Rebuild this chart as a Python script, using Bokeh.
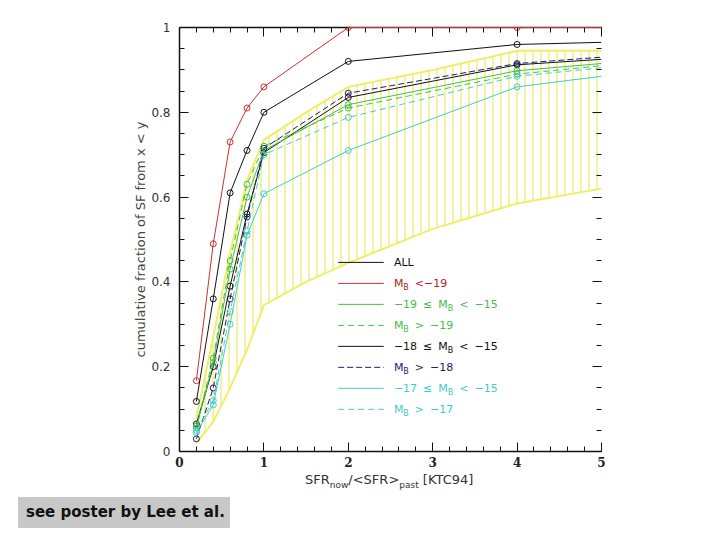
import numpy as np
from bokeh.plotting import figure
from bokeh.layouts import column
from bokeh.models import Range1d, LinearAxis, FixedTicker, ColumnDataSource, Div
from bokeh.core.properties import value
from bokeh.embed import file_html
from bokeh.resources import INLINE

# SFR_now / <SFR>_past bins and the cumulative fraction of SF for each subsample
sfr_ratio = [0.2, 0.4, 0.6, 0.8, 1.0, 2.0, 4.0, 5.0]
frac_all = [0.065, 0.20, 0.39, 0.56, 0.705, 0.835, 0.912, 0.925]
frac_bright = [0.167, 0.49, 0.73, 0.81, 0.86, 1.0, 1.0, 1.0]
frac_m19_m15 = [0.055, 0.21, 0.43, 0.60, 0.71, 0.818, 0.898, 0.915]
frac_gt_m19 = [0.06, 0.22, 0.45, 0.63, 0.72, 0.81, 0.89, 0.91]
frac_m18_m15 = [0.118, 0.36, 0.61, 0.71, 0.80, 0.92, 0.96, 0.965]
frac_gt_m18 = [0.03, 0.15, 0.36, 0.553, 0.715, 0.845, 0.915, 0.93]
frac_m17_m15 = [0.045, 0.11, 0.30, 0.51, 0.608, 0.71, 0.86, 0.885]
frac_gt_m17 = [0.05, 0.12, 0.33, 0.52, 0.70, 0.788, 0.885, 0.905]

# hatched model envelope
band_x = [0.2, 0.4, 0.6, 0.8, 1.0, 1.5, 2.0, 3.0, 4.0, 5.0]
band_lo = [0.02, 0.07, 0.15, 0.24, 0.345, 0.40, 0.445, 0.525, 0.585, 0.62]
band_hi = [0.08, 0.27, 0.47, 0.64, 0.735, 0.80, 0.86, 0.90, 0.945, 0.945]

x_ticks = [0, 1, 2, 3, 4, 5]
y_ticks = [0, 0.2, 0.4, 0.6, 0.8, 1.0]
y_tick_labels = ["0", "0.2", "0.4", "0.6", "0.8", "1"]

# legend entries: (label tokens, series, colour, dash); tokens flagged True are subscripts
RED, BLACK, GREEN, NAVY, CYAN = "#cc3030", "#111111", "#44c044", "#1c1c78", "#44cccc"
series = [
    ([("ALL", False)], frac_all, BLACK, "solid"),
    ([("M", False), ("B", True), ("<\u221219", False)], frac_bright, RED, "solid"),
    ([("\u221219", False), ("\u2264", False), ("M", False), ("B", True), ("<", False), ("\u221215", False)],
     frac_m19_m15, GREEN, "solid"),
    ([("M", False), ("B", True), (">", False), ("\u221219", False)], frac_gt_m19, GREEN, "6 4"),
    ([("\u221218", False), ("\u2264", False), ("M", False), ("B", True), ("<", False), ("\u221215", False)],
     frac_m18_m15, BLACK, "solid"),
    ([("M", False), ("B", True), (">", False), ("\u221218", False)], frac_gt_m18, NAVY, "6 3"),
    ([("\u221217", False), ("\u2264", False), ("M", False), ("B", True), ("<", False), ("\u221215", False)],
     frac_m17_m15, CYAN, "solid"),
    ([("M", False), ("B", True), (">", False), ("\u221217", False)], frac_gt_m17, CYAN, "6 4"),
]

x_title = [("SFR", False), ("now", True), ("/<SFR>", False), ("past", True), (" [KTC94]", False)]
note_text = "see poster by Lee et al."

# DejaVu Sans advance widths (em) used to lay out composite labels
ADV = {" ": 0.318, "\u2212": 0.838, "\u2264": 0.838, "<": 0.838, ">": 0.838, "M": 0.863,
       "B": 0.686, "A": 0.684, "L": 0.557, "S": 0.635, "F": 0.575, "R": 0.695, "n": 0.634,
       "o": 0.612, "w": 0.818, "/": 0.337, "p": 0.635, "a": 0.613, "s": 0.521, "t": 0.392,
       "[": 0.390, "]": 0.390, "K": 0.656, "T": 0.611, "C": 0.698}


def width(s, size):
    return sum(ADV.get(ch, 0.636) for ch in s) * size


FONT = "DejaVu Sans"
W = 720
LEFT, RIGHT, TOP = 179, 119, 27
MAIN_H, FOOT_H = 472, 68

p = figure(width=W, height=MAIN_H, output_backend="svg", toolbar_location=None,
           x_range=Range1d(0, 5), y_range=Range1d(0, 1),
           min_border_left=LEFT, min_border_right=RIGHT, min_border_top=TOP,
           min_border_bottom=21, background_fill_color="white", border_fill_color="white")
p.outline_line_color = None
p.grid.visible = False

minor_x = [round(v, 2) for v in np.arange(0, 5.001, 0.2)]
minor_y = [round(v, 2) for v in np.arange(0, 1.001, 0.05)]


def style_axis(ax, ticks, minor, show_labels):
    ax.ticker = FixedTicker(ticks=ticks, minor_ticks=minor)
    ax.major_tick_in = 9
    ax.major_tick_out = 0
    ax.minor_tick_in = 5
    ax.minor_tick_out = 0
    ax.major_tick_line_color = "#111111"
    ax.minor_tick_line_color = "#111111"
    ax.axis_line_color = "#111111"
    ax.axis_line_width = 1.5
    if not show_labels:
        ax.major_label_text_color = None


xa = p.xaxis[0]
style_axis(xa, x_ticks, minor_x, True)
xa.major_label_text_font = "DejaVu Serif"
xa.major_label_text_font_style = "bold"
xa.major_label_text_font_size = "12px"
xa.major_label_text_color = "#222222"
xa.major_label_standoff = 5

ya = p.yaxis[0]
style_axis(ya, y_ticks, minor_y, True)
ya.major_label_overrides = {t: s for t, s in zip(y_ticks, y_tick_labels)}
ya.major_label_text_font = FONT
ya.major_label_text_font_size = "12px"
ya.major_label_text_color = "#333333"
ya.major_label_standoff = 9
ya.axis_label = "cumulative fraction of SF from x < y"
ya.axis_label_text_font = FONT
ya.axis_label_text_font_size = "13px"
ya.axis_label_text_font_style = "normal"
ya.axis_label_text_color = "#444444"
ya.axis_label_standoff = 0

top = LinearAxis()
style_axis(top, x_ticks, minor_x, False)
p.add_layout(top, "above")
right = LinearAxis()
style_axis(right, y_ticks, minor_y, False)
right.axis_line_color = None
p.add_layout(right, "right")

# hatched envelope
p.varea(x=band_x, y1=band_lo, y2=band_hi, fill_alpha=0, hatch_pattern="|",
        hatch_color="#e8e44a", hatch_scale=8, hatch_weight=1)
p.line(band_x, band_hi, line_color="#f0ee66", line_width=2)
p.line(band_x, band_lo, line_color="#f0ee66", line_width=2)

# curves
for tokens, ys, color, dash in series:
    r = p.line(sfr_ratio, ys, line_color=color, line_width=1, line_dash=dash)
    if color == RED:
        r.level = "overlay"   # keep the saturated curve visible over the top spine
    p.scatter(sfr_ratio[:-1], ys[:-1], marker="circle", size=6, line_color=color,
              fill_color=None, line_width=1)

# legend
leg_x0, leg_x1, leg_tx = 1.88, 2.42, 2.54
leg_y0, leg_dy = 0.446, 0.0495
MAIN, SUB, GAP = 11, 8, 6
tx, ty, tt, toff, tyoff, tsize, tcol = [], [], [], [], [], [], []
for i, (tokens, ys, color, dash) in enumerate(series):
    y = leg_y0 - i * leg_dy
    p.line([leg_x0, leg_x1], [y, y], line_color=color, line_width=1, line_dash=dash)
    off = 0.0
    for j, (s, sub) in enumerate(tokens):
        if j > 0 and not sub:
            off += GAP
        size = SUB if sub else MAIN
        tx.append(leg_tx); ty.append(y); tt.append(s); toff.append(off)
        tyoff.append(4 if sub else 0); tsize.append(f"{size}px")
        tcol.append("#b82020" if color == RED else color)
        off += width(s, size)
src = ColumnDataSource(dict(x=tx, y=ty, text=tt, xo=toff, yo=tyoff, fs=tsize, c=tcol))
p.text(x="x", y="y", text="text", x_offset="xo", y_offset="yo", text_font_size="fs",
       text_color="c", text_font=value(FONT), text_baseline="middle", text_align="left",
       source=src)

# footer: x-axis title (with subscripts) centred under the frame, and the note box
frame_w = W - LEFT - RIGHT
total = sum(width(s, 9 if sub else 13) for s, sub in x_title)
title_left = LEFT + frame_w / 2 - total / 2


def esc(s):
    return s.replace("&", "&amp;").replace("<", "&lt;").replace(">", "&gt;").replace(" ", "&nbsp;")


title_html = "".join(
    f'<sub style="font-size:9px;vertical-align:-4px;line-height:0">{esc(s)}</sub>' if sub else esc(s)
    for s, sub in x_title)
footer = Div(width=W, height=FOOT_H, margin=0, text=f"""
<div style="position:relative;width:{W}px;height:{FOOT_H}px;font-family:'{FONT}';">
  <div style="position:absolute;left:{title_left:.0f}px;top:0px;font-size:13px;line-height:15px;
              color:#333333;white-space:nowrap;">{title_html}</div>
  <div style="position:absolute;left:18px;top:25px;width:212px;height:31px;background:#c8c8c8;
              box-sizing:border-box;padding-left:8px;font-size:15px;font-weight:bold;
              line-height:31px;color:#111111;white-space:nowrap;">{esc(note_text)}</div>
</div>""")

open("out.html", "w").write(file_html(column(p, footer, spacing=0), INLINE))
